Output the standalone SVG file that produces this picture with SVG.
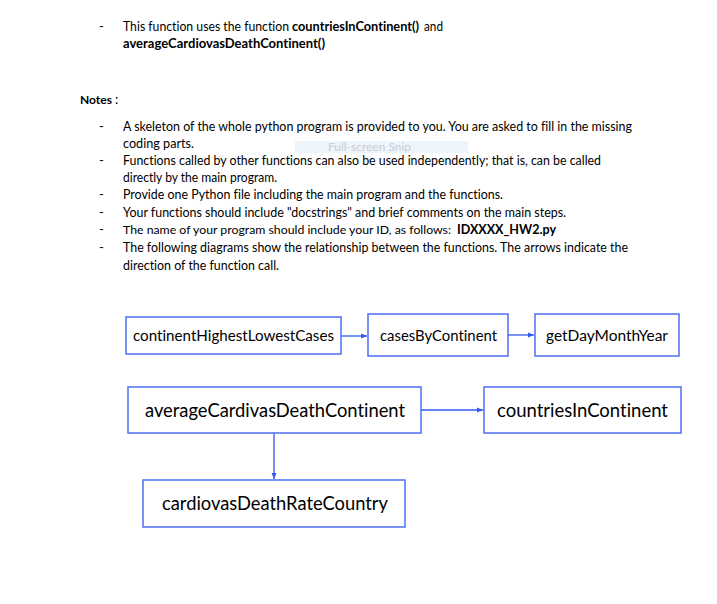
<svg xmlns="http://www.w3.org/2000/svg" width="717" height="604" viewBox="0 0 717 604">
<style>
.t{font-family:Lato,"Open Sans","Liberation Sans",sans-serif;font-size:13px;fill:#000;font-variant-ligatures:none;}
.b{font-weight:bold;}
.n{fill:#fff;stroke:#4f6ef5;stroke-width:1.5;}
.lbl{font-family:Lato,"Open Sans","Liberation Sans",sans-serif;fill:#000;font-variant-ligatures:none;}
.c{stroke:#3358f0;stroke-width:1.3;fill:none;}
</style>
<defs>
<marker id="ah" markerWidth="8" markerHeight="8" refX="6" refY="3.5" orient="auto" markerUnits="userSpaceOnUse">
<path d="M0,1 L6,3.5 L0,6 Z" fill="#3358f0"/>
</marker>
</defs>
<rect width="717" height="604" fill="#fff"/>
<g id="text">
<text class="t" x="99" y="31">-</text>
<text class="t" x="123" y="31" textLength="166" lengthAdjust="spacingAndGlyphs">This function uses the function</text>
<text class="t b" x="292" y="31" textLength="127" lengthAdjust="spacingAndGlyphs">countriesInContinent()</text>
<text class="t" x="424" y="31" textLength="19" lengthAdjust="spacingAndGlyphs">and</text>
<text class="t b" x="123" y="48" textLength="202" lengthAdjust="spacingAndGlyphs">averageCardiovasDeathContinent()</text>
<text class="t b" x="80" y="104" style="font-size:12px" textLength="32" lengthAdjust="spacingAndGlyphs">Notes</text>
<text class="t" x="115" y="104">:</text>
<rect x="295" y="141" width="173" height="12" fill="#eef4fb"/>
<text x="328" y="151" style="font-family:Lato,'Liberation Sans',sans-serif;font-size:10.5px;fill:#c9cdd6" textLength="83" lengthAdjust="spacingAndGlyphs">Full-screen Snip</text>
<text class="t" x="99" y="131">-</text>
<text class="t" x="123" y="131" textLength="509" lengthAdjust="spacingAndGlyphs">A skeleton of the whole python program is provided to you. You are asked to fill in the missing</text>
<text class="t" x="123" y="148" textLength="71" lengthAdjust="spacingAndGlyphs">coding parts.</text>
<text class="t" x="99" y="165">-</text>
<text class="t" x="123" y="165" textLength="478" lengthAdjust="spacingAndGlyphs">Functions called by other functions can also be used independently; that is, can be called</text>
<text class="t" x="123" y="182" textLength="154" lengthAdjust="spacingAndGlyphs">directly by the main program.</text>
<text class="t" x="99" y="199">-</text>
<text class="t" x="123" y="199" textLength="380" lengthAdjust="spacingAndGlyphs">Provide one Python file including the main program and the functions.</text>
<text class="t" x="99" y="217">-</text>
<text class="t" x="123" y="217" textLength="443" lengthAdjust="spacingAndGlyphs">Your functions should include "docstrings" and brief comments on the main steps.</text>
<text class="t" x="99" y="234">-</text>
<text class="t" x="123" y="234" style="font-size:12.2px" textLength="328" lengthAdjust="spacingAndGlyphs">The name of your program should include your ID, as follows:</text>
<text class="t b" x="457" y="234" textLength="99" lengthAdjust="spacingAndGlyphs">IDXXXX_HW2.py</text>
<text class="t" x="99" y="252">-</text>
<text class="t" x="123" y="252" textLength="505" lengthAdjust="spacingAndGlyphs">The following diagrams show the relationship between the functions. The arrows indicate the</text>
<text class="t" x="123" y="270" textLength="156" lengthAdjust="spacingAndGlyphs">direction of the function call.</text>
</g>
<g id="connectors">
<line class="c" x1="341" y1="336" x2="367" y2="336" marker-end="url(#ah)"/>
<line class="c" x1="508" y1="335" x2="534" y2="335" marker-end="url(#ah)"/>
<line class="c" x1="421" y1="410" x2="483" y2="410" marker-end="url(#ah)"/>
<line class="c" x1="274" y1="433" x2="274" y2="479" marker-end="url(#ah)"/>
</g>
<g id="continentHighestLowestCases">
<rect class="n" x="126" y="317" width="215" height="37"/>
<text class="lbl" x="133" y="341" font-size="15.5" textLength="201" lengthAdjust="spacingAndGlyphs">continentHighestLowestCases</text>
</g>
<g id="casesByContinent">
<rect class="n" x="368" y="314" width="140" height="42"/>
<text class="lbl" x="380" y="341" font-size="15.5" textLength="117" lengthAdjust="spacingAndGlyphs">casesByContinent</text>
</g>
<g id="getDayMonthYear">
<rect class="n" x="535" y="314" width="144" height="42"/>
<text class="lbl" x="546" y="341" font-size="15.5" textLength="122" lengthAdjust="spacingAndGlyphs">getDayMonthYear</text>
</g>
<g id="averageCardivasDeathContinent">
<rect class="n" x="128" y="387" width="293" height="46"/>
<text class="lbl" x="145" y="417" font-size="18.5" textLength="260" lengthAdjust="spacingAndGlyphs">averageCardivasDeathContinent</text>
</g>
<g id="countriesInContinent">
<rect class="n" x="484" y="387" width="197" height="46"/>
<text class="lbl" x="497" y="417" font-size="18.5" textLength="171" lengthAdjust="spacingAndGlyphs">countriesInContinent</text>
</g>
<g id="cardiovasDeathRateCountry">
<rect class="n" x="143" y="480" width="262" height="47"/>
<text class="lbl" x="162" y="510" font-size="18.5" textLength="226" lengthAdjust="spacingAndGlyphs">cardiovasDeathRateCountry</text>
</g>
</svg>
